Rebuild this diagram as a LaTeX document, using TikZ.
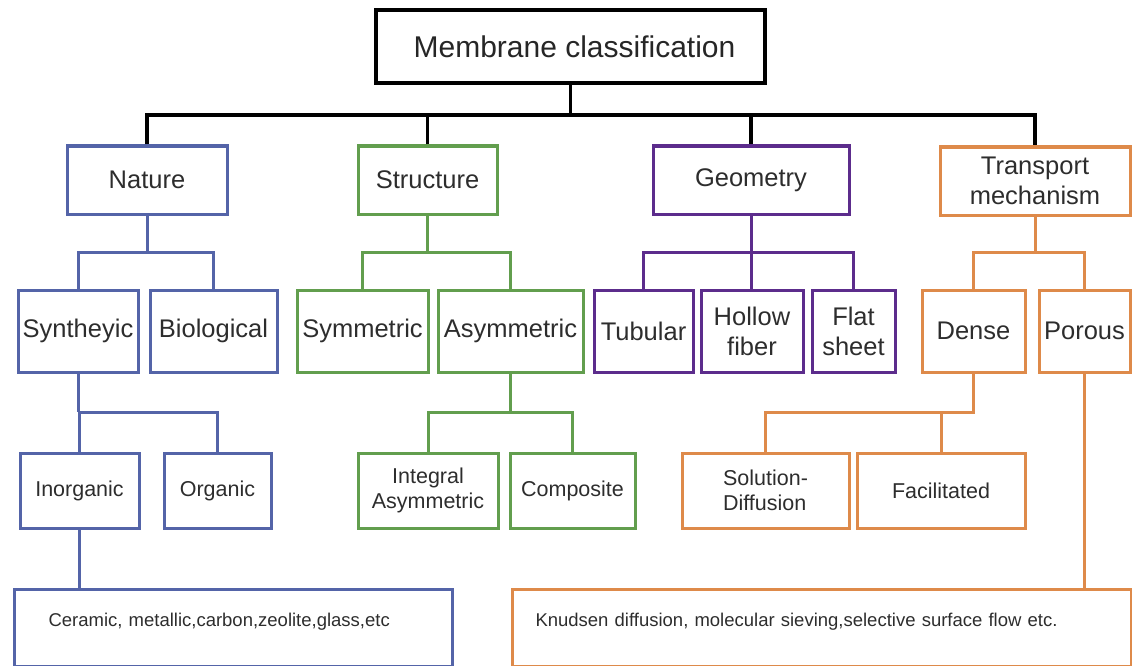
\documentclass[tikz,border=0pt]{standalone}
\usepackage{fontspec}
\setmainfont{Liberation Sans}
\usetikzlibrary{calc}
\definecolor{natblue}{RGB}{84,100,168}
\definecolor{strgreen}{RGB}{98,158,78}
\definecolor{geopurple}{RGB}{92,44,140}
\definecolor{traorange}{RGB}{222,138,74}
\definecolor{txtgray}{RGB}{45,45,45}
\tikzset{
  box/.style={draw=#1, line width=3pt, inner sep=0pt, align=center, text=txtgray},
  link/.style={draw=#1, line width=3pt},
  topfont/.style={font=\fontsize{30}{35}\selectfont},
  bigfont/.style={font=\fontsize{25.5}{30}\selectfont},
  smallfont/.style={font=\fontsize{21.5}{25}\selectfont},
  tinyfont/.style={font=\fontsize{18.5}{22}\selectfont},
}

\begin{document}
\begin{tikzpicture}[x=1pt,y=-1pt]
		%%%%% START %%%%%
		\useasboundingbox (0,0) rectangle (1132,666);

		\node[box=black, topfont, line width=3.5pt, minimum width=389pt, minimum height=73pt, text=black!85] (root) at (570.5,46.5) {\hspace*{8pt}Membrane classification};

		% first level
		\node[box=natblue, bigfont, minimum width=160pt, minimum height=68pt] (nature) at (147,180) {Nature};
		\node[box=strgreen, bigfont, minimum width=139pt, minimum height=68pt] (struct) at (427.5,180) {Structure};
		\node[box=geopurple, bigfont, minimum width=196pt, minimum height=68pt] (geom) at (751,180) {Geometry};
		\node[box=traorange, bigfont, minimum width=190pt, minimum height=68pt] (trans) at (1035,181) {Transport\\mechanism};

		\coordinate (bus1) at (570.5,115);
		\draw[link=black, line width=3.5pt] (root.south) -- (bus1);
		\draw[link=black, line width=3.5pt] (nature.north) |- (bus1) -| (trans.north);
		\draw[link=black, line width=3.5pt] (struct.north) -- (struct.north |- bus1);
		\draw[link=black, line width=3.5pt] (geom.north) -- (geom.north |- bus1);

		% second level
		\node[box=natblue, bigfont, minimum width=120pt, minimum height=82pt] (synth) at (78,331) {Syntheyic};
		\node[box=natblue, bigfont, minimum width=127pt, minimum height=82pt] (bio) at (213.5,331) {Biological};
		\node[box=strgreen, bigfont, minimum width=131pt, minimum height=82pt] (sym) at (362.5,331) {Symmetric};
		\node[box=strgreen, bigfont, minimum width=145pt, minimum height=82pt] (asym) at (510.5,331) {Asymmetric};
		\node[box=geopurple, bigfont, minimum width=99pt, minimum height=82pt] (tub) at (643.5,331) {Tubular};
		\node[box=geopurple, bigfont, minimum width=102pt, minimum height=82pt] (hollow) at (752,331) {Hollow\\fiber};
		\node[box=geopurple, bigfont, minimum width=83pt, minimum height=82pt] (flat) at (853.5,331) {Flat\\sheet};
		\node[box=traorange, bigfont, minimum width=103pt, minimum height=82pt] (dense) at (973.5,331) {Dense};
		\node[box=traorange, bigfont, minimum width=91pt, minimum height=82pt] (porous) at (1084.5,331) {Porous};

		\coordinate (bus2) at (0,252);
		\draw[link=natblue] (nature.south) -- (nature.south |- bus2);
		\draw[link=natblue] (synth.north) |- (bio.north |- bus2) -- (bio.north);
		\draw[link=strgreen] (struct.south) -- (struct.south |- bus2);
		\draw[link=strgreen] (sym.north) |- (asym.north |- bus2) -- (asym.north);
		\draw[link=geopurple] (geom.south) -- (geom.south |- hollow.north);
		\draw[link=geopurple] (tub.north) |- (flat.north |- bus2) -- (flat.north);
		\draw[link=traorange] (trans.south) -- (trans.south |- bus2);
		\draw[link=traorange] (dense.north) |- (porous.north |- bus2) -- (porous.north);

		% third level
		\node[box=natblue, smallfont, minimum width=119pt, minimum height=75pt] (inorg) at (79.5,490.5) {Inorganic};
		\node[box=natblue, smallfont, minimum width=107pt, minimum height=75pt] (org) at (217.5,490.5) {Organic};
		\node[box=strgreen, smallfont, minimum width=140pt, minimum height=75pt] (integ) at (428,490.5) {Integral\\Asymmetric};
		\node[box=strgreen, smallfont, minimum width=125pt, minimum height=75pt] (comp) at (572.5,490.5) {Composite};
		\node[box=traorange, smallfont, minimum width=167pt, minimum height=75pt, align=left] (sol) at (765.5,490.5) {Solution-\\Diffusion};
		\node[box=traorange, smallfont, minimum width=168pt, minimum height=75pt] (facil) at (941,490.5) {Facilitated};

		\coordinate (bus3) at (0,412);
		\draw[link=natblue] (synth.south) -- (synth.south |- bus3);
		\draw[link=natblue] (inorg.north) |- (org.north |- bus3) -- (org.north);
		\draw[link=strgreen] (asym.south) -- (asym.south |- bus3);
		\draw[link=strgreen] (integ.north) |- (comp.north |- bus3) -- (comp.north);
		\draw[link=traorange] (dense.south) -- (dense.south |- bus3) -| (sol.north);
		\draw[link=traorange] (facil.north) -- (facil.north |- bus3);

		% examples
		\node[box=natblue, tinyfont, anchor=north west, align=left, inner xsep=34pt, text width=370pt, text height=37pt, text depth=40pt] (ceram) at (13,588) {Ceramic, metallic,carbon,zeolite,glass,etc};
		\node[box=traorange, tinyfont, anchor=north west, align=left, inner xsep=23pt, text width=573pt, text height=37pt, text depth=40pt] (knud) at (511,588) {Knudsen diffusion, molecular sieving,selective surface flow etc.};

		\draw[link=natblue] (inorg.south) -- (inorg.south |- ceram.north);
		\draw[link=traorange] (porous.south) -- (porous.south |- knud.north);

		%%%%% END %%%%%
\end{tikzpicture}
\end{document}
